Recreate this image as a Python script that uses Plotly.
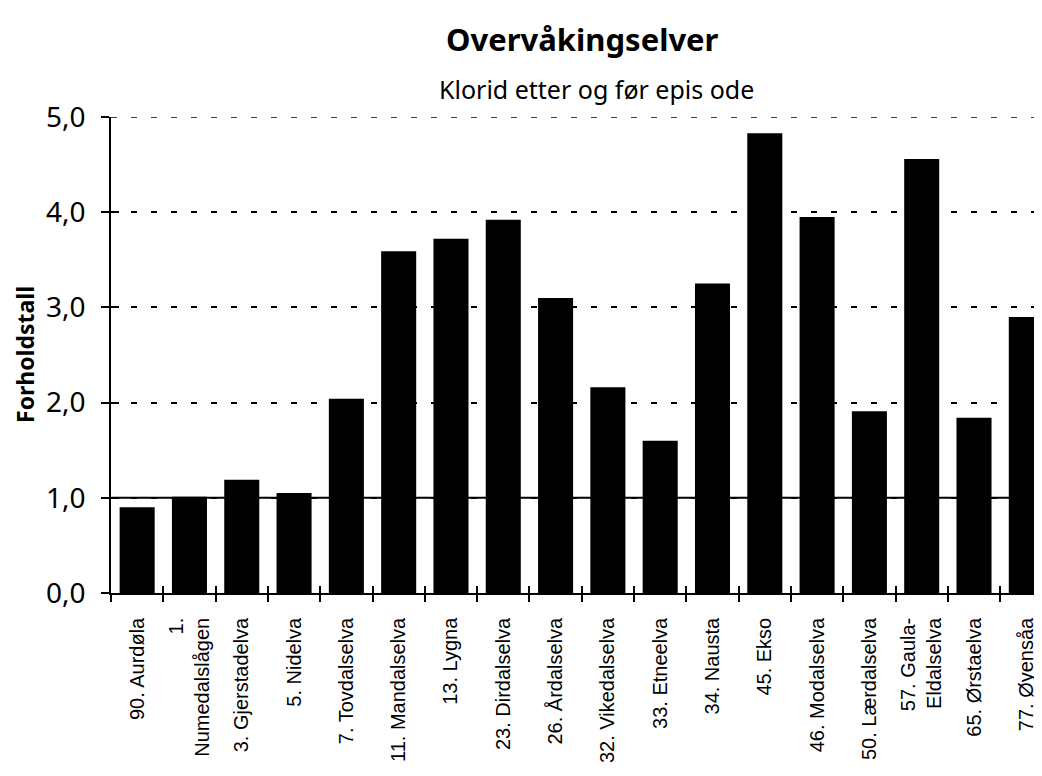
import plotly.graph_objects as go

categories = [
    "90. Aurdøla", "1.<br>Numedalslågen", "3. Gjerstadelva", "5. Nidelva",
    "7. Tovdalselva", "11. Mandalselva", "13. Lygna", "23. Dirdalselva",
    "26. Årdalselva", "32. Vikedalselva", "33. Etneelva", "34. Nausta",
    "45. Ekso", "46. Modalselva", "50. Lærdalselva", "57. Gaula-<br>Eldalselva",
    "65. Ørstaelva", "77. Øyensåa",
]
values = [0.90, 1.01, 1.19, 1.05, 2.04, 3.59, 3.72, 3.92, 3.10, 2.16,
          1.60, 3.25, 4.83, 3.95, 1.91, 4.56, 1.84, 2.90]
y_ticks = [0, 1, 2, 3, 4, 5]
y_ticktext = ["0,0", "1,0", "2,0", "3,0", "4,0", "5,0"]

title_text = "Overvåkingselver"
subtitle_text = "Klorid etter og før epis ode"
y_title = "Forholdstall"

fig = go.Figure()
fig.add_trace(go.Bar(x=categories, y=values, marker=dict(color="black", line=dict(width=0)),
                     showlegend=False))
# empty trace on secondary axes so the tick marks cross the axis lines
fig.add_trace(go.Bar(x=categories, y=[None]*len(categories), xaxis="x2", yaxis="y2",
                     showlegend=False, hoverinfo="skip"))

fig.update_layout(
    width=1034, height=768,
    margin=dict(l=103, r=0, t=109, b=183),
    paper_bgcolor="white", plot_bgcolor="white",
    bargap=0.33,
    font=dict(family="Liberation Sans, Arial", color="black"),
    xaxis=dict(
        range=[-0.5, 17.3], tickson="boundaries", ticks="outside", ticklen=7,
        tickwidth=1.5, tickcolor="black", showline=True, linecolor="black", linewidth=1.5,
        tickangle=-90, tickfont=dict(size=20, family="Liberation Sans, Arial", color="black"),
        showgrid=False, zeroline=False, automargin=False, ticklabelstandoff=15,
    ),
    xaxis2=dict(
        range=[-0.5, 17.3], overlaying="x", matches="x", tickson="boundaries", ticks="inside",
        ticklen=7, tickwidth=1.5, tickcolor="black", showticklabels=False,
        showgrid=False, zeroline=False, showline=False, automargin=False,
    ),
    yaxis=dict(
        range=[0, 5], tickvals=y_ticks, ticktext=y_ticktext, ticks="outside", ticklen=8,
        tickwidth=1.5, tickcolor="black", showline=True, linecolor="black", linewidth=1.5,
        tickfont=dict(size=28, family="Noto Sans", color="black"),
        showgrid=True, gridcolor="black", gridwidth=1.5, griddash="6px,14px",
        zeroline=False, ticklabelstandoff=10, automargin=False,
    ),
    yaxis2=dict(
        range=[0, 5], overlaying="y", matches="y", tickvals=y_ticks, ticks="inside", ticklen=8,
        tickwidth=1.5, tickcolor="black", showticklabels=False, showgrid=False,
        zeroline=False, showline=False, automargin=False,
    ),
    shapes=[
        dict(type="line", xref="paper", x0=0, x1=1, yref="y", y0=1, y1=1,
             line=dict(color="black", width=2), layer="below"),
        dict(type="line", xref="paper", x0=0, x1=1, yref="y", y0=5, y1=5,
             line=dict(color="black", width=1.5, dash="6px,14px"), layer="below"),
    ],
    annotations=[
        dict(text="<b>" + title_text + "</b>", xref="paper", yref="paper", x=0.506, y=1.0,
             yshift=78, showarrow=False, font=dict(size=31, family="Noto Sans", color="black"),
             xanchor="center", yanchor="middle"),
        dict(text=subtitle_text, xref="paper", yref="paper", x=0.522, y=1.0, yshift=28,
             showarrow=False, font=dict(size=25, family="Noto Sans", color="black"),
             xanchor="center", yanchor="middle"),
        dict(text="<b>" + y_title + "</b>", xref="paper", yref="paper", x=0, xshift=-86,
             y=0.5, textangle=-90, showarrow=False,
             font=dict(size=23, family="Noto Sans", color="black"),
             xanchor="center", yanchor="middle"),
    ],
)

fig.write_html("out.html")
